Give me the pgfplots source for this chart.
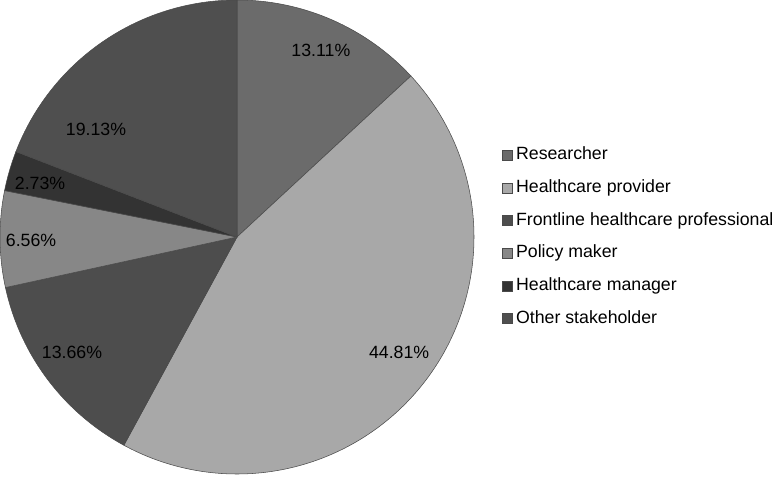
\documentclass[border=0pt]{standalone}
\usepackage{pgfplots}
\pgfplotsset{compat=1.18}
\usepackage{fontspec}
\setmainfont{Liberation Sans}

% shares in percent, clockwise from 12 o'clock
\def\pA{13.11}% Researcher
\def\pB{44.81}% Healthcare provider
\def\pC{13.66}% Frontline healthcare professional
\def\pD{6.56}%  Policy maker
\def\pE{2.73}%  Healthcare manager
\def\pF{19.13}% Other stakeholder

\pgfmathsetmacro{\aA}{90}
\pgfmathsetmacro{\aB}{\aA-3.6*\pA}
\pgfmathsetmacro{\aC}{\aB-3.6*\pB}
\pgfmathsetmacro{\aD}{\aC-3.6*\pC}
\pgfmathsetmacro{\aE}{\aD-3.6*\pD}
\pgfmathsetmacro{\aF}{\aE-3.6*\pE}
\pgfmathsetmacro{\aG}{\aF-3.6*\pF}

\definecolor{cA}{HTML}{6B6B6B}
\definecolor{cB}{HTML}{A8A8A8}
\definecolor{cC}{HTML}{4D4D4D}
\definecolor{cD}{HTML}{878787}
\definecolor{cE}{HTML}{333333}
\definecolor{cF}{HTML}{4F4F4F}
\definecolor{edge}{HTML}{4A4A4A}

\begin{document}
\begin{tikzpicture}
\begin{axis}[
    x=177.75pt, y=177.75pt,
    xmin=-1, xmax=1, ymin=-1, ymax=1,
    hide axis,
    clip=false,
    every axis plot/.append style={draw=edge, line width=0.4pt},
    legend image code/.code={\fill[#1] (0pt,-3.75pt) rectangle (7.5pt,3.75pt);},
    legend cell align=left,
    legend style={draw=none, fill=none, at={(axis cs:1.118,0)}, anchor=west,
      inner sep=0pt, row sep=11pt,
      font=\fontsize{13.3}{15}\selectfont,
      nodes={inner sep=0.5pt, text height=9.5pt, text depth=3pt},
      /tikz/every odd column/.append style={column sep=2pt}},
    ]
\addplot[fill=cA, domain=\aB:\aA, samples=60, variable=\t] ({cos(\t)},{sin(\t)}) -- (0,0) -- cycle;
\addplot[fill=cB, domain=\aC:\aB, samples=160, variable=\t] ({cos(\t)},{sin(\t)}) -- (0,0) -- cycle;
\addplot[fill=cC, domain=\aD:\aC, samples=60, variable=\t] ({cos(\t)},{sin(\t)}) -- (0,0) -- cycle;
\addplot[fill=cD, domain=\aE:\aD, samples=40, variable=\t] ({cos(\t)},{sin(\t)}) -- (0,0) -- cycle;
\addplot[fill=cE, domain=\aF:\aE, samples=20, variable=\t] ({cos(\t)},{sin(\t)}) -- (0,0) -- cycle;
\addplot[fill=cF, domain=\aG:\aF, samples=80, variable=\t] ({cos(\t)},{sin(\t)}) -- (0,0) -- cycle;
\legend{Researcher, Healthcare provider, Frontline healthcare professional, Policy maker, Healthcare manager, Other stakeholder}

\begin{scope}[every node/.style={font=\fontsize{13.3}{15}\selectfont, text=black, inner sep=0pt}]
\node at (axis cs:0.354,0.789)   {\pA\%};
\node at (axis cs:0.684,-0.485)  {\pB\%};
\node at (axis cs:-0.696,-0.485) {\pC\%};
\node at (axis cs:-0.869,-0.013) {\pD\%};
\node at (axis cs:-0.831,0.228)  {\pE\%};
\node at (axis cs:-0.595,0.456)  {\pF\%};
\end{scope}
\end{axis}
\pgfresetboundingbox
\path (current axis.south west) ++(0,-1.5pt) rectangle ++(582.75pt,357pt);
\end{tikzpicture}
\end{document}
